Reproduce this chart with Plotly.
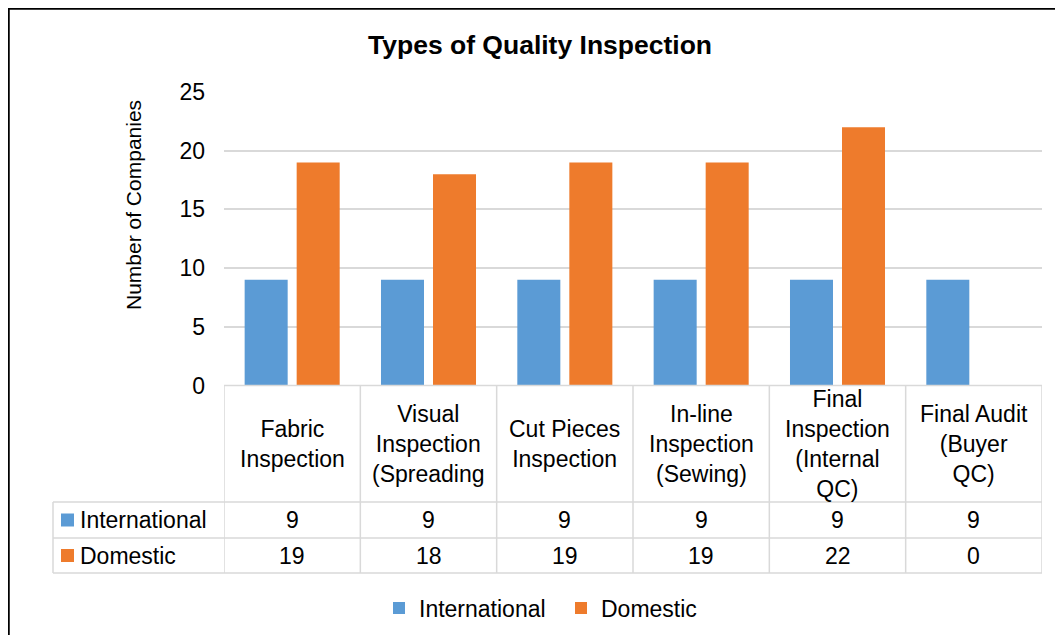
import plotly.graph_objects as go

# ---- data ----
categories = ["Fabric Inspection", "Visual Inspection (Spreading", "Cut Pieces Inspection",
              "In-line Inspection (Sewing)", "Final Inspection (Internal QC)", "Final Audit (Buyer QC)"]
category_labels = ["Fabric<br>Inspection", "Visual<br>Inspection<br>(Spreading", "Cut Pieces<br>Inspection",
                   "In-line<br>Inspection<br>(Sewing)", "Final<br>Inspection<br>(Internal<br>QC)",
                   "Final Audit<br>(Buyer<br>QC)"]
international = [9, 9, 9, 9, 9, 9]
domestic = [19, 18, 19, 19, 22, 0]
series_names = ["International", "Domestic"]
y_ticks = [0, 5, 10, 15, 20, 25]

# ---- styling ----
OFF = 8  # page body margin offset
W, H = 1063 - 2 * OFF, 643 - 2 * OFF  # fit the page without scrollbars
FONT = "Liberation Sans, Arial, sans-serif"
BLUE = "#5b9bd5"
ORANGE = "#ee7b2c"
GRID = "#d9d9d9"
colors = [BLUE, ORANGE]
series = [international, domestic]


def px(x):
    return (x - OFF) / W


def py(y):
    return 1 - (y - OFF) / H


fig = go.Figure()
for name, vals, col in zip(series_names, series, colors):
    fig.add_trace(go.Bar(name=name, x=list(range(len(categories))), y=vals,
                         marker=dict(color=col, line=dict(width=0)),
                         hovertext=categories))

plot_left, plot_right = 224, 1042
plot_top, plot_bottom = 92, 385.5
row_header_bottom = 502
row_int_bottom = 538
row_dom_bottom = 573
table_left = 53

shapes = []
# outer frame (left and top edges visible)
shapes.append(dict(type="line", xref="paper", yref="paper", x0=px(8.5), x1=px(8.5), y0=0, y1=py(7.3),
                   line=dict(color="black", width=2.5), layer="above"))
shapes.append(dict(type="line", xref="paper", yref="paper", x0=px(7.3), x1=1, y0=py(8.5), y1=py(8.5),
                   line=dict(color="black", width=2.5), layer="above"))
# table horizontal lines
shapes.append(dict(type="line", xref="paper", yref="paper", x0=px(plot_left), x1=px(plot_right),
                   y0=py(plot_bottom), y1=py(plot_bottom), line=dict(color=GRID, width=1.5)))
for yy in [row_header_bottom, row_int_bottom, row_dom_bottom]:
    shapes.append(dict(type="line", xref="paper", yref="paper", x0=px(table_left), x1=px(plot_right),
                       y0=py(yy), y1=py(yy), line=dict(color=GRID, width=1.5)))
# table vertical lines
shapes.append(dict(type="line", xref="paper", yref="paper", x0=px(table_left), x1=px(table_left),
                   y0=py(row_header_bottom), y1=py(row_dom_bottom), line=dict(color=GRID, width=1.5)))
for i in range(len(categories) + 1):
    shapes.append(dict(type="line", xref="x", yref="paper", x0=i - 0.5, x1=i - 0.5,
                       y0=py(plot_bottom), y1=py(row_dom_bottom), line=dict(color=GRID, width=1.5)))
# legend keys in table
row_centers = [(row_header_bottom + row_int_bottom) / 2, (row_int_bottom + row_dom_bottom) / 2]
for yc, col in zip(row_centers, colors):
    shapes.append(dict(type="rect", xref="paper", yref="paper", x0=px(61), x1=px(74),
                       y0=py(yc + 6.5), y1=py(yc - 6.5), line=dict(width=0), fillcolor=col))

annotations = []
annotations.append(dict(text="<b>Types of Quality Inspection</b>", xref="paper", yref="paper",
                        x=px(540), y=py(45), xanchor="center", yanchor="middle", showarrow=False,
                        font=dict(family=FONT, size=26.5, color="black")))
annotations.append(dict(text="Number of Companies", xref="paper", yref="paper", textangle=-90,
                        x=px(133), y=py(205), xanchor="center", yanchor="middle", showarrow=False,
                        font=dict(family=FONT, size=21, color="black")))
header_center = (plot_bottom + row_header_bottom) / 2
for i, lab in enumerate(category_labels):
    annotations.append(dict(text=lab, xref="x", yref="paper", x=i, y=py(header_center),
                            xanchor="center", yanchor="middle", showarrow=False, align="center",
                            font=dict(family=FONT, size=23, color="black")))
for name, vals, yc in zip(series_names, series, row_centers):
    annotations.append(dict(text=name, xref="paper", yref="paper", x=px(78), y=py(yc),
                            xanchor="left", yanchor="middle", showarrow=False,
                            font=dict(family=FONT, size=23, color="black")))
    for i, v in enumerate(vals):
        annotations.append(dict(text=str(v), xref="x", yref="paper", x=i, y=py(yc),
                                xanchor="center", yanchor="middle", showarrow=False,
                                font=dict(family=FONT, size=23, color="black")))

fig.update_layout(
    width=W, height=H,
    margin=dict(l=0, r=0, t=0, b=0, autoexpand=False),
    paper_bgcolor="white", plot_bgcolor="white",
    barmode="group", bargap=0.237, bargroupgap=0.173,
    font=dict(family=FONT, size=23, color="black"),
    showlegend=True,
    legend=dict(orientation="h", x=px(379), xanchor="left", y=py(608), yanchor="middle",
                entrywidth=137, entrywidthmode="pixels",
                font=dict(family=FONT, size=23, color="black"), bgcolor="rgba(0,0,0,0)",
                traceorder="normal", itemclick=False),
    xaxis=dict(domain=[px(plot_left), px(plot_right)], range=[-0.5, len(categories) - 0.5],
               showticklabels=False, showgrid=False, zeroline=False, showline=False, fixedrange=True),
    yaxis=dict(domain=[py(plot_bottom), py(plot_top)], range=[0, 25], tickvals=y_ticks,
               showgrid=True, gridcolor=GRID, gridwidth=1.5, zeroline=False, showline=False,
               ticks="", ticklabelstandoff=18, tickfont=dict(family=FONT, size=23, color="black"),
               fixedrange=True),
    shapes=shapes,
    annotations=annotations,
)

fig.write_html("out.html")
